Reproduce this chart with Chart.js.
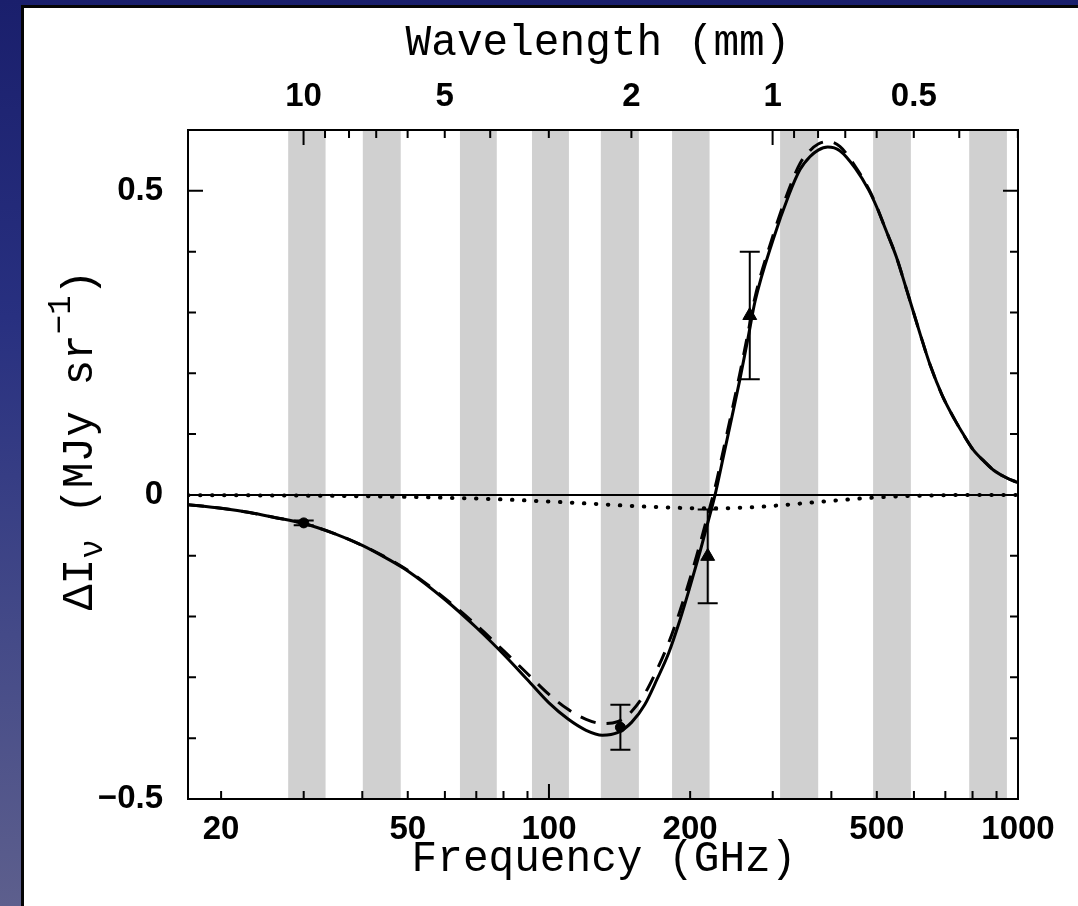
<!DOCTYPE html>
<html>
<head>
<meta charset="utf-8">
<script src="https://cdn.jsdelivr.net/npm/chart.js@4.4.1/dist/chart.umd.min.js"></script>
<style>
  html, body { margin: 0; padding: 0; }
  body {
    width: 1078px; height: 906px; overflow: hidden; position: relative;
    background: linear-gradient(to bottom, #1a1f6c 0%, #283080 35%, #444a88 70%, #5d5f8d 100%);
  }
  #panel {
    position: absolute; left: 21px; top: 5px; right: 0; bottom: 0;
    background: #fff; border-left: 3px solid #050505; border-top: 3px solid #050505;
  }
  #chart { position: absolute; left: 0; top: 0; }
</style>
</head>
<body>
<div id="panel"></div>
<canvas id="chart" width="1078" height="906"></canvas>
<script>
// Frequency grid (GHz) shared by the three model curves
const freqGHz = [17, 20, 23, 26, 30, 35, 40, 45, 50, 60, 70, 80, 90, 100, 110, 120, 130, 140, 150, 160,
  170, 180, 190, 200, 210, 220, 226, 235, 245, 255, 265, 275, 300, 325, 343, 360, 375, 393, 417, 450,
  480, 500, 520, 550, 580, 620, 650, 690, 734, 760, 803, 850, 886, 940, 1000];

// Thermal SZ model (solid line), MJy/sr
const solidCurve = [-0.016, -0.022, -0.029, -0.037, -0.047, -0.064, -0.083, -0.104, -0.125, -0.172,
  -0.218, -0.262, -0.304, -0.342, -0.369, -0.387, -0.395, -0.391, -0.374, -0.345,
  -0.303, -0.260, -0.207, -0.150, -0.093, -0.035, 0.000, 0.060, 0.125, 0.188,
  0.253, 0.318, 0.418, 0.494, 0.535, 0.556, 0.567, 0.572, 0.566, 0.537,
  0.502, 0.473, 0.440, 0.392, 0.335, 0.262, 0.213, 0.163, 0.123, 0.103,
  0.074, 0.054, 0.041, 0.029, 0.020];

// Alternative model (dashed line)
const dashedCurve = [-0.016, -0.022, -0.029, -0.037, -0.047, -0.064, -0.083, -0.103, -0.124, -0.170,
  -0.214, -0.256, -0.294, -0.328, -0.353, -0.369, -0.376, -0.373, -0.356, -0.327,
  -0.287, -0.243, -0.192, -0.137, -0.080, -0.022, 0.012, 0.071, 0.135, 0.198,
  0.262, 0.325, 0.425, 0.503, 0.545, 0.566, 0.577, 0.581, 0.573, 0.540,
  0.504, 0.474, 0.440, 0.392, 0.335, 0.262, 0.213, 0.163, 0.123, 0.103,
  0.074, 0.054, 0.041, 0.029, 0.020];

// Kinematic component (dotted line)
const dottedCurve = [-0.0004, -0.0005, -0.0007, -0.0009, -0.0012, -0.0016, -0.0022, -0.0027, -0.0033, -0.0046,
  -0.0060, -0.0075, -0.0092, -0.0108, -0.0124, -0.0140, -0.0155, -0.0169, -0.0181, -0.0192,
  -0.0200, -0.0207, -0.0213, -0.0217, -0.0219, -0.0220, -0.0220, -0.0219, -0.0216, -0.0211,
  -0.0206, -0.0201, -0.0180, -0.0159, -0.0143, -0.0129, -0.0117, -0.0103, -0.0086, -0.0065,
  -0.0050, -0.0041, -0.0034, -0.0025, -0.0018, -0.0012, -0.0009, -0.0005, -0.0003, -0.0002,
  -0.0001, -0.0001, 0, 0, 0];

// Measurements with 1-sigma errors
const obsFreq = [30, 142, 218, 268];
const obsValue = [-0.046, -0.382, -0.101, 0.295];
const obsError = [0.004, 0.037, 0.077, 0.105];
const obsMarker = ['circle', 'circle', 'triangle', 'triangle'];
const obsSize = [5, 5, 8, 8];

// Observing bands (GHz)
const bandLow = [27.8, 40.1, 64.6, 92.0, 129.0, 183.0, 311.0, 491.0, 787.0];
const bandHigh = [33.4, 48.3, 77.4, 110.3, 155.5, 220.0, 375.0, 591.0, 947.0];

// Axis ticks
const freqTicks = [20, 30, 40, 50, 60, 70, 80, 90, 100, 200, 300, 400, 500, 600, 700, 800, 900, 1000];
const freqLabels = [20, 50, 100, 200, 500, 1000];
const wavelengthTicks = [10, 9, 8, 7, 6, 5, 4, 3, 2, 1, 0.9, 0.8, 0.7, 0.6, 0.5, 0.4, 0.3];
const wavelengthLabels = [10, 5, 2, 1, 0.5];
const yTicks = [-0.5, -0.4, -0.3, -0.2, -0.1, 0, 0.1, 0.2, 0.3, 0.4, 0.5];
const yLabels = ['\u22120.5', '', '', '', '', '0', '', '', '', '', '0.5'];

const C_MM_GHZ = 299.792458; // c in mm*GHz
const isDecade = v => Math.abs(Math.log10(v) - Math.round(Math.log10(v))) < 1e-9;

const pts = ys => freqGHz.map((f, i) => ({ x: f, y: ys[i] }));

const tickFont = { family: '"Liberation Sans", Arial, sans-serif', size: 33, weight: 'bold' };
const TITLE_FONT = '45px "Liberation Mono", "DejaVu Sans Mono", monospace';
const TITLE_SMALL = '34px "Liberation Mono", "DejaVu Sans Mono", monospace';
const TITLE_SCALE_X = 0.95;

// Rich text: array of {t, font, dy}; drawn centred on (0,0) with baseline at y=0
function drawRich(ctx, parts) {
  let total = 0;
  parts.forEach(p => { ctx.font = p.font; p.w = ctx.measureText(p.t).width; total += p.w; });
  let x = -total / 2;
  ctx.textBaseline = 'alphabetic';
  ctx.textAlign = 'left';
  parts.forEach(p => { ctx.font = p.font; ctx.fillText(p.t, x, p.dy || 0); x += p.w; });
}

const decorPlugin = {
  id: 'decor',
  beforeDatasetsDraw(chart) {
    const { ctx, chartArea: a, scales: { x, y } } = chart;
    ctx.save();
    ctx.fillStyle = '#d0d0d0';
    for (let i = 0; i < bandLow.length; i++) {
      const x0 = x.getPixelForValue(bandLow[i]);
      const x1 = x.getPixelForValue(bandHigh[i]);
      ctx.fillRect(x0, a.top, x1 - x0, a.bottom - a.top);
    }
    const y0 = y.getPixelForValue(0);
    ctx.strokeStyle = '#000';
    ctx.lineWidth = 2;
    ctx.beginPath();
    ctx.moveTo(a.left, y0);
    ctx.lineTo(a.right, y0);
    ctx.stroke();
    ctx.restore();
  },
  afterDatasetsDraw(chart) {
    const { ctx, scales: { x, y } } = chart;
    ctx.save();
    ctx.strokeStyle = '#000';
    ctx.lineWidth = 2;
    obsFreq.forEach((f, i) => {
      const px = x.getPixelForValue(f);
      const yt = y.getPixelForValue(obsValue[i] + obsError[i]);
      const yb = y.getPixelForValue(obsValue[i] - obsError[i]);
      ctx.beginPath();
      ctx.moveTo(px, yt); ctx.lineTo(px, yb);
      ctx.moveTo(px - 10, yt); ctx.lineTo(px + 10, yt);
      ctx.moveTo(px - 10, yb); ctx.lineTo(px + 10, yb);
      ctx.stroke();
    });
    ctx.restore();
  },
  afterDraw(chart) {
    const { ctx, chartArea: a, scales } = chart;
    ctx.save();
    ctx.strokeStyle = '#000';
    ctx.lineWidth = 2;
    ctx.strokeRect(a.left, a.top, a.right - a.left, a.bottom - a.top);
    const MAJ = 15, MIN = 8;
    ctx.beginPath();
    scales.x.ticks.forEach(t => {
      const p = scales.x.getPixelForValue(t.value);
      ctx.moveTo(p, a.bottom); ctx.lineTo(p, a.bottom - (t.major ? MAJ : MIN));
    });
    scales.x2.ticks.forEach(t => {
      const p = scales.x2.getPixelForValue(t.value);
      ctx.moveTo(p, a.top); ctx.lineTo(p, a.top + (t.major ? MAJ : MIN));
    });
    scales.y.ticks.forEach(t => {
      const p = scales.y.getPixelForValue(t.value);
      const len = t.major ? MAJ : MIN;
      ctx.moveTo(a.left, p); ctx.lineTo(a.left + len, p);
      ctx.moveTo(a.right, p); ctx.lineTo(a.right - len, p);
    });
    ctx.stroke();

    // Axis titles
    ctx.fillStyle = '#000';
    ctx.save();
    ctx.translate(598, 55);
    ctx.scale(TITLE_SCALE_X, 1);
    drawRich(ctx, [{ t: 'Wavelength (mm)', font: TITLE_FONT }]);
    ctx.restore();

    ctx.save();
    ctx.translate(604, 871);
    ctx.scale(TITLE_SCALE_X, 1);
    drawRich(ctx, [{ t: 'Frequency (GHz)', font: TITLE_FONT }]);
    ctx.restore();

    ctx.save();
    ctx.translate(92, 440);
    ctx.rotate(-Math.PI / 2);
    ctx.scale(TITLE_SCALE_X, 1);
    drawRich(ctx, [
      { t: '\u0394I', font: TITLE_FONT },
      { t: '\u03bd', font: TITLE_SMALL, dy: 10 },
      { t: ' (MJy sr', font: TITLE_FONT },
      { t: '\u22121', font: TITLE_SMALL, dy: -22 },
      { t: ')', font: TITLE_FONT }
    ]);
    ctx.restore();
    ctx.restore();
  }
};

const baseTicks = { autoSkip: false, maxRotation: 0, minRotation: 0, color: '#000', font: tickFont };

new Chart(document.getElementById('chart'), {
  type: 'line',
  data: {
    datasets: [
      {
        type: 'scatter', label: 'data', order: 0,
        data: obsFreq.map((f, i) => ({ x: f, y: obsValue[i] })),
        pointStyle: obsMarker, pointRadius: obsSize,
        backgroundColor: '#000', borderColor: '#000', borderWidth: 1
      },
      {
        label: 'model', order: 1, data: pts(solidCurve),
        borderColor: '#000', borderWidth: 3, pointRadius: 0, fill: false,
        cubicInterpolationMode: 'monotone'
      },
      {
        label: 'model (alt)', order: 2, data: pts(dashedCurve),
        borderColor: '#000', borderWidth: 3, borderDash: [16, 11], pointRadius: 0, fill: false,
        cubicInterpolationMode: 'monotone'
      },
      {
        label: 'kinematic', order: 3, data: pts(dottedCurve),
        borderColor: '#000', borderWidth: 4, borderDash: [0.5, 11.5], borderCapStyle: 'round',
        pointRadius: 0, fill: false, cubicInterpolationMode: 'monotone'
      }
    ]
  },
  options: {
    responsive: false,
    animation: false,
    devicePixelRatio: 1,
    layout: { padding: { left: 0, right: 60, top: 0, bottom: 0 } },
    plugins: { legend: { display: false }, tooltip: { enabled: false } },
    scales: {
      x: {
        type: 'logarithmic', position: 'bottom', min: 17, max: 1000,
        grid: { display: false, drawTicks: false }, border: { display: false },
        afterBuildTicks: s => { s.ticks = freqTicks.map(v => ({ value: v, major: isDecade(v) })); },
        afterFit: s => { s.height = 107; },
        ticks: Object.assign({}, baseTicks, {
          padding: 11,
          callback: v => (freqLabels.includes(v) ? String(v) : '')
        })
      },
      x2: {
        type: 'logarithmic', axis: 'x', position: 'top', min: 17, max: 1000,
        grid: { display: false, drawTicks: false }, border: { display: false },
        afterBuildTicks: s => {
          s.ticks = wavelengthTicks.map(l => ({ value: C_MM_GHZ / l, lambda: l, major: l === 10 || l === 1 }));
        },
        afterFit: s => { s.height = 130; },
        ticks: Object.assign({}, baseTicks, {
          padding: 13,
          callback: (v, i, t) => (wavelengthLabels.includes(t[i].lambda) ? String(t[i].lambda) : '')
        })
      },
      y: {
        type: 'linear', position: 'left', min: -0.5, max: 0.6,
        grid: { display: false, drawTicks: false }, border: { display: false },
        afterBuildTicks: s => { s.ticks = yTicks.map((v, i) => ({ value: v, major: yLabels[i] !== '' })); },
        afterFit: s => { s.width = 188; },
        ticks: Object.assign({}, baseTicks, {
          padding: 25,
          callback: (v, i) => yLabels[i]
        })
      }
    }
  },
  plugins: [decorPlugin]
});
</script>
</body>
</html>
